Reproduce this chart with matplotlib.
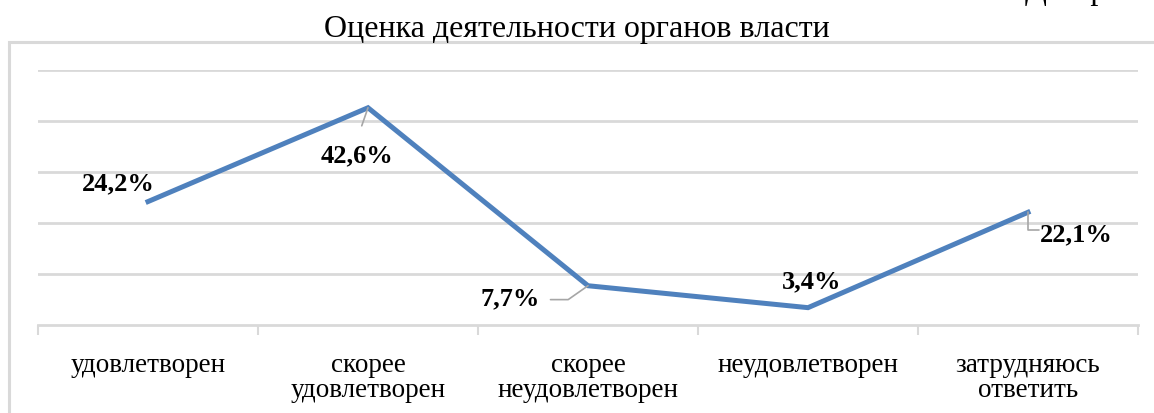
import matplotlib.pyplot as plt
from matplotlib.patches import Rectangle

plt.rcParams['font.family'] = ['Liberation Serif', 'DejaVu Serif']

categories = ['удовлетворен', 'скорее\nудовлетворен', 'скорее\nнеудовлетворен',
              'неудовлетворен', 'затрудняюсь\nответить']
values = [24.2, 42.6, 7.7, 3.4, 22.1]
labels = ['24,2%', '42,6%', '7,7%', '3,4%', '22,1%']

line_color = '#4F81BD'
grid_color = '#D9D9D9'

fig = plt.figure(figsize=(11.54, 4.14), dpi=100)
fig.patch.set_facecolor('white')

# рамка области диаграммы
fig.patches.append(Rectangle((9 / 1154, -0.1), 1.2, 1 - 43 / 414 + 0.1,
                             transform=fig.transFigure, fill=False,
                             edgecolor=grid_color, linewidth=2.2))

ax = fig.add_axes([38 / 1154, 1 - 326 / 414, 1100 / 1154, 255 / 414])
x = list(range(len(values)))
ax.plot(x, values, color=line_color, linewidth=3.6, solid_joinstyle='miter', zorder=3)

ax.set_xlim(-0.5, len(values) - 0.5)
ax.set_ylim(0, 50)
ax.set_yticks([10, 20, 30, 40, 50])
ax.yaxis.grid(True, color=grid_color, linewidth=2)
ax.set_axisbelow(True)
ax.tick_params(axis='y', left=False, labelleft=False)
for s in ['top', 'right', 'left']:
    ax.spines[s].set_visible(False)
ax.spines['bottom'].set_color(grid_color)
ax.spines['bottom'].set_linewidth(2)

ax.set_xticks([i - 0.5 for i in range(len(values) + 1)])
ax.set_xticklabels([])
ax.tick_params(axis='x', length=7, width=1.5, color=grid_color)
for i, c in enumerate(categories):
    ax.text(i, -0.105, c, transform=ax.get_xaxis_transform(), ha='center', va='top',
            fontsize=19.5, linespacing=1.03)

# подписи данных
offsets = [(-30, 19), (-11, -47), (-78, -12), (4, 27), (48, -22)]
for i, (v, lab, off) in enumerate(zip(values, labels, offsets)):
    ax.annotate(lab, (i, v), xytext=(off[0] * 0.72, off[1] * 0.72), textcoords='offset points',
                ha='center', va='center', fontsize=19, fontweight='bold', zorder=4)

# линии выноски
lc = '#A6A6A6'
ax.annotate('', (1, 42.6), xytext=(-4.5, -13), textcoords='offset points',
            arrowprops=dict(arrowstyle='-', color=lc, lw=1.2, shrinkA=0, shrinkB=0))
ax.annotate('', (2, 7.7), xytext=(-27, -10), textcoords='offset points',
            arrowprops=dict(arrowstyle='-', color=lc, lw=1.2, shrinkA=0, shrinkB=0,
                            connectionstyle='angle,angleA=0,angleB=35,rad=0'))
ax.annotate('', (4, 22.1), xytext=(8, -12.5), textcoords='offset points',
            arrowprops=dict(arrowstyle='-', color=lc, lw=1.2, shrinkA=0, shrinkB=0,
                            connectionstyle='angle,angleA=0,angleB=90,rad=0'))

fig.text(0.5, 1 - 30 / 414, 'Оценка деятельности органов власти', ha='center', va='center',
         fontsize=23)
# обрезанная сверху подпись, как в исходнике
fig.text(1025 / 1154, 1 + 1 / 414, 'Диаграмма', ha='left', va='baseline', fontsize=23)

fig.savefig('out.png', dpi=100)
